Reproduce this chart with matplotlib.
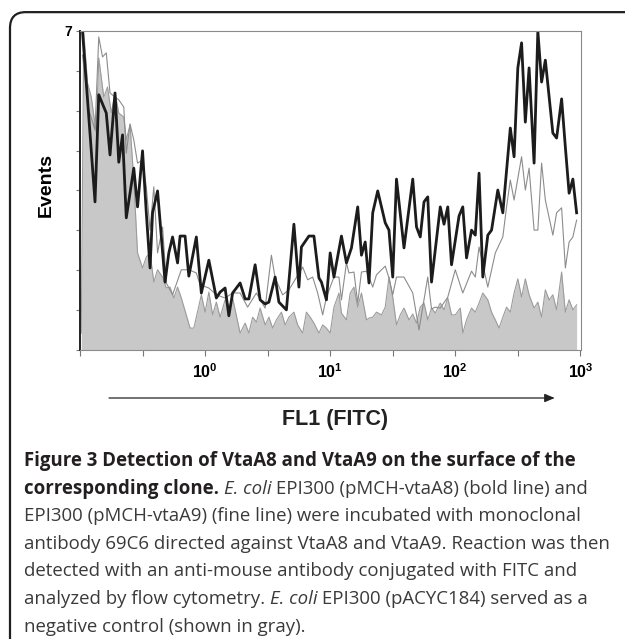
import numpy as np
import matplotlib
matplotlib.use("Agg")
import matplotlib.pyplot as plt
from matplotlib.patches import FancyBboxPatch
from matplotlib.transforms import ScaledTranslation

plt.rcParams["font.family"] = ["Liberation Sans", "DejaVu Sans"]
plt.rcParams["mathtext.fontset"] = "custom"
plt.rcParams["mathtext.bf"] = "Liberation Sans:bold"
plt.rcParams["mathtext.rm"] = "Liberation Sans"

# x = log10(FL1 intensity), y = events
bold_x = [-0.98, -0.88, -0.85, -0.79, -0.76, -0.72, -0.69, -0.66, -0.63, -0.57, -0.54, -0.50, -0.47, -0.44,
          -0.42, -0.38, -0.32, -0.29, -0.26, -0.22, -0.20, -0.16, -0.13, -0.07, -0.03, 0.03, 0.09, 0.12,
          0.16, 0.19, 0.22, 0.28, 0.32, 0.35, 0.40, 0.44, 0.48, 0.51, 0.56, 0.59, 0.65, 0.71, 0.75, 0.77,
          0.83, 0.87, 0.91, 0.93, 0.97, 1.00, 1.03, 1.09, 1.13, 1.17, 1.22, 1.25, 1.28, 1.31, 1.34, 1.38,
          1.44, 1.47, 1.50, 1.53, 1.59, 1.66, 1.69, 1.72, 1.75, 1.78, 1.81, 1.88, 1.91, 1.94, 1.97, 2.03,
          2.06, 2.09, 2.13, 2.16, 2.19, 2.22, 2.26, 2.29, 2.34, 2.38, 2.44, 2.47, 2.50, 2.53, 2.56, 2.59,
          2.63, 2.66, 2.69, 2.72, 2.78, 2.81, 2.85, 2.88, 2.91, 2.94, 2.97]
bold_y = [7.00, 3.25, 5.60, 5.20, 4.28, 5.64, 4.12, 4.72, 2.90, 3.99, 3.14, 4.37, 3.01, 1.80,
          3.01, 3.49, 1.49, 2.13, 2.48, 1.91, 2.50, 2.50, 1.62, 2.48, 1.25, 1.97, 1.14, 1.27,
          1.36, 0.75, 1.25, 1.47, 1.12, 1.12, 1.87, 1.10, 1.01, 1.05, 1.60, 1.05, 0.88, 2.76, 1.38, 2.26,
          2.50, 2.50, 1.58, 1.49, 1.10, 2.13, 1.60, 2.50, 1.91, 2.24, 3.14, 2.08, 2.37, 1.47, 3.01, 3.49,
          2.79, 2.63, 1.60, 3.75, 2.24, 3.75, 2.70, 2.48, 3.25, 3.36, 1.49, 3.14, 2.76, 3.14, 1.87, 2.94,
          3.14, 2.02, 2.63, 2.52, 3.88, 1.60, 2.52, 2.63, 3.51, 3.01, 4.87, 4.24, 6.19, 6.74, 5.00, 6.19,
          4.10, 7.00, 5.88, 6.36, 4.76, 4.65, 5.51, 4.45, 3.44, 3.75, 3.01]

fine_x = [-0.98, -0.93, -0.88, -0.85, -0.82, -0.79, -0.76, -0.72, -0.69, -0.65, -0.63, -0.60, -0.57, -0.54,
          -0.50, -0.47, -0.44, -0.41, -0.38, -0.34, -0.31, -0.26, -0.19, -0.13, -0.07, -0.04, 0.03, 0.09,
          0.16, 0.22, 0.28, 0.34, 0.41, 0.48, 0.53, 0.56, 0.62, 0.67, 0.78, 0.82, 0.86, 0.90, 0.94, 0.97,
          1.00, 1.03, 1.07, 1.09, 1.13, 1.15, 1.19, 1.22, 1.25, 1.29, 1.31, 1.34, 1.37, 1.44, 1.47, 1.50,
          1.53, 1.59, 1.66, 1.71, 1.78, 1.81, 1.84, 1.88, 1.94, 2.00, 2.06, 2.13, 2.16, 2.19, 2.26, 2.32,
          2.38, 2.41, 2.44, 2.47, 2.53, 2.56, 2.59, 2.63, 2.66, 2.69, 2.72, 2.78, 2.81, 2.85, 2.88, 2.91,
          2.94, 2.97]
fine_y = [6.47, 5.27, 4.83, 6.87, 6.43, 6.52, 5.64, 5.55, 5.49, 5.33, 4.32, 4.96, 4.61, 4.10,
          4.17, 3.58, 2.63, 3.58, 2.13, 2.70, 1.47, 1.21, 1.76, 1.76, 1.69, 1.43, 1.36, 1.21,
          1.14, 1.25, 1.25, 0.94, 1.25, 0.92, 2.08, 1.58, 1.21, 1.32, 1.82, 1.54, 1.60, 1.25, 0.77, 1.16,
          1.38, 1.60, 1.60, 1.10, 1.91, 1.69, 1.71, 1.03, 1.71, 1.73, 1.60, 1.38, 1.65, 1.84, 1.58, 1.21,
          1.60, 1.60, 1.25, 0.44, 1.60, 0.90, 0.94, 0.92, 1.16, 1.76, 1.25, 1.73, 1.60, 2.26, 1.38, 2.13,
          2.48, 3.14, 3.73, 3.29, 4.24, 3.51, 3.99, 2.63, 2.63, 4.10, 3.29, 2.52, 3.01, 3.12, 1.80, 2.37,
          2.48, 2.85]

ctrl_x = [-0.99, -0.97, -0.94, -0.91, -0.87, -0.85, -0.81, -0.78, -0.75, -0.72, -0.69, -0.65, -0.63, -0.60,
          -0.57, -0.54, -0.50, -0.47, -0.44, -0.41, -0.38, -0.34, -0.31, -0.28, -0.25, -0.22, -0.19, -0.12,
          -0.09, -0.03, 0.00, 0.03, 0.06, 0.09, 0.12, 0.16, 0.20, 0.22, 0.28, 0.32, 0.35, 0.38, 0.41, 0.44,
          0.48, 0.51, 0.54, 0.57, 0.61, 0.64, 0.67, 0.71, 0.74, 0.78, 0.81, 0.84, 0.87, 0.91, 0.94, 0.97,
          1.00, 1.03, 1.07, 1.09, 1.13, 1.16, 1.19, 1.22, 1.25, 1.29, 1.31, 1.34, 1.37, 1.41, 1.44, 1.47,
          1.50, 1.53, 1.56, 1.59, 1.63, 1.66, 1.69, 1.72, 1.75, 1.78, 1.81, 1.84, 1.88, 1.91, 1.94, 1.97,
          2.00, 2.04, 2.06, 2.09, 2.13, 2.16, 2.19, 2.22, 2.26, 2.29, 2.32, 2.35, 2.38, 2.41, 2.44, 2.47,
          2.50, 2.53, 2.56, 2.59, 2.63, 2.66, 2.69, 2.72, 2.75, 2.78, 2.81, 2.85, 2.88, 2.91, 2.94, 2.97]
ctrl_y = [0.37, 6.98, 5.86, 5.55, 4.76, 6.41, 5.55, 5.77, 5.20, 5.64, 5.20, 5.11, 4.61, 4.94,
          3.73, 2.13, 1.80, 2.04, 2.13, 1.49, 1.76, 1.60, 1.36, 1.38, 1.14, 1.38, 1.14, 0.48,
          0.48, 1.21, 0.83, 1.27, 0.77, 1.05, 0.72, 1.10, 0.94, 1.14, 0.37, 0.59, 0.37, 0.72, 0.61, 0.92,
          0.55, 0.72, 0.48, 0.66, 0.83, 0.55, 0.72, 0.83, 0.55, 0.37, 0.83, 0.72, 0.59, 0.37, 0.55, 0.48,
          0.37, 0.94, 1.25, 0.81, 0.66, 1.25, 1.38, 0.94, 1.25, 0.66, 0.70, 0.72, 0.83, 0.77, 0.94, 1.60,
          1.16, 0.55, 0.77, 0.92, 0.66, 0.79, 0.59, 0.94, 1.03, 0.66, 0.92, 0.81, 1.03, 0.88, 1.14, 0.77,
          0.77, 0.92, 0.37, 0.66, 0.92, 0.83, 1.03, 1.25, 1.10, 0.83, 0.66, 0.48, 0.72, 0.94, 0.83, 1.25,
          1.56, 1.16, 1.56, 1.21, 0.92, 1.05, 0.72, 1.32, 1.10, 1.21, 0.88, 1.71, 0.83, 1.10, 0.88, 0.99]

decades = [0, 1, 2, 3]
half_decades = [-1, -0.5, 0, 0.5, 1, 1.5, 2, 2.5, 3]

fig = plt.figure(figsize=(6.25, 6.39), dpi=100)

# panel frame with rounded top-left corner
frame = FancyBboxPatch((0.016, -0.2), 1.2, 0.2 + 0.981, boxstyle="round,pad=0,rounding_size=0.025",
                       transform=fig.transFigure, fill=False, lw=1.6, ec="#231f20", clip_on=False)
fig.patches.append(frame)

ax = fig.add_axes([0.128, 0.4523, 0.8016, 0.4992])
ax.fill_between(ctrl_x, ctrl_y, 0, color="#c8c8c9", lw=0)
ax.plot(ctrl_x, ctrl_y, color="#9c9c9c", lw=0.8)
ax.plot(fine_x, fine_y, color="#8c8c8c", lw=0.8)
ax.plot(bold_x, bold_y, color="#1c1c1c", lw=2.0)

ax.set_xlim(-1, 3.005)
ax.set_ylim(0, 7)
ax.set_xticks(half_decades)
ax.set_xticklabels(["" if v not in decades else r"$\mathbf{10^{%d}}$" % v for v in half_decades],
                   fontsize=11.5)
# the decade labels sit a little right of their ticks in the original
nudge = {0: 0, 1: 4, 2: 5, 3: 13}
for v, lab in zip(half_decades, ax.get_xticklabels()):
    if v in nudge:
        lab.set_transform(lab.get_transform() + ScaledTranslation(nudge[v] / 100, 0, fig.dpi_scale_trans))
yt = np.linspace(0, 7, 9)
ax.set_yticks(yt)
ax.set_yticklabels([""] * 8 + ["7"], fontsize=10, fontweight="bold")
ax.tick_params(axis="x", length=4, width=0.8, color="#777777", pad=5)
ax.tick_params(axis="y", length=3, width=0.8, color="#777777", pad=3)
for s in ["top", "right", "bottom"]:
    ax.spines[s].set_color("#8a8a8a")
    ax.spines[s].set_linewidth(0.8)
ax.spines["left"].set_color("#222222")
ax.spines["left"].set_linewidth(1.4)
ax.set_ylabel("Events", fontsize=14, fontweight="bold")
ax.yaxis.set_label_coords(-0.05, 0.517)

# x-axis arrow and title
ax_arrow = fig.add_axes([0, 0, 1, 1], facecolor="none")
ax_arrow.set_axis_off()
ax_arrow.annotate("", xy=(0.892, 1 - 398 / 639), xytext=(0.170, 1 - 398 / 639),
                  arrowprops=dict(arrowstyle="-|>,head_length=0.6,head_width=0.25", lw=0.9, color="#222222"))
fig.text(0.536, 1 - 420 / 639, "FL1 (FITC)", fontsize=15.5, fontweight="bold", ha="center", va="center",
         color="#222222")

# caption
caption = [
    [("Figure 3 Detection of VtaA8 and VtaA9 on the surface of the", "bold", "normal")],
    [("corresponding clone.", "bold", "normal"), (" ", "normal", "normal"), ("E. coli", "normal", "italic"),
     (" EPI300 (pMCH-vtaA8) (bold line) and", "normal", "normal")],
    [("EPI300 (pMCH-vtaA9) (fine line) were incubated with monoclonal", "normal", "normal")],
    [("antibody 69C6 directed against VtaA8 and VtaA9. Reaction was then", "normal", "normal")],
    [("detected with an anti-mouse antibody conjugated with FITC and", "normal", "normal")],
    [("analyzed by flow cytometry. ", "normal", "normal"), ("E. coli", "normal", "italic"),
     (" EPI300 (pACYC184) served as a", "normal", "normal")],
    [("negative control (shown in gray).", "normal", "normal")],
]
renderer = fig.canvas.get_renderer()
y0 = 1 - 461 / 639
dy = 27.6 / 639
for i, line in enumerate(caption):
    x = 0.038
    for txt, weight, style in line:
        t = fig.text(x, y0 - i * dy, txt, fontsize=13.4, family=["Open Sans", "DejaVu Sans"],
                     fontweight=weight, fontstyle=style, va="center", ha="left",
                     color="#231f20" if weight == "bold" else "#3a3a3a")
        bb = t.get_window_extent(renderer)
        x += bb.width / fig.bbox.width

fig.savefig("out.png", dpi=100)
